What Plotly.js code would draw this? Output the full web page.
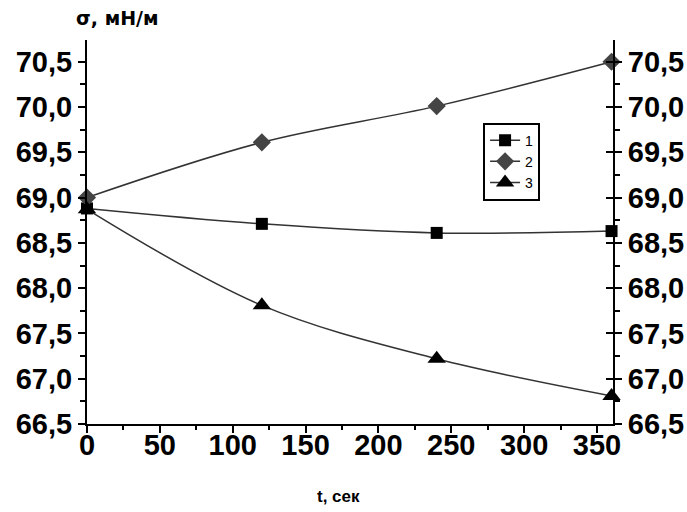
<!DOCTYPE html>
<html><head><meta charset="utf-8">
<script src="https://cdn.plot.ly/plotly-3.0.1.min.js"></script>
<style>html,body{margin:0;padding:0;background:#fff}#c{width:687px;height:512px}</style>
</head><body><div id="c"></div>
<script>
const times = [0, 120, 240, 360];
const series1 = [68.88, 68.71, 68.61, 68.63];
const series2 = [69.0, 69.61, 70.01, 70.5];
const series3 = [68.87, 67.81, 67.22, 66.81];
const seriesNames = ['1', '2', '3'];
const yTickVals = [66.5, 67.0, 67.5, 68.0, 68.5, 69.0, 69.5, 70.0, 70.5];
const yTickText = ['66,5', '67,0', '67,5', '68,0', '68,5', '69,0', '69,5', '70,0', '70,5'];
const xTickVals = [0, 50, 100, 150, 200, 250, 300, 350];

const yRange = [66.5, 70.74];
const tickFont = {family: 'Liberation Sans, Arial, sans-serif', size: 29, color: '#000', weight: 'bold'};

function tr(y, name, sym, size, col) {
  return {x: times, y: y, name: name, type: 'scatter', mode: 'lines+markers',
    line: {color: '#333', width: 1.5, shape: 'spline'},
    marker: {symbol: sym, size: size, color: col, line: {width: 0}},
    cliponaxis: false};
}
const data = [
  tr(series1, seriesNames[0], 'square', 12, '#000'),
  tr(series2, seriesNames[1], 'diamond', 14, '#444'),
  tr(series3, seriesNames[2], 'triangle-up', 16, '#000'),
  {x: [0], y: [null], yaxis: 'y2', showlegend: false, hoverinfo: 'skip'},
  {x: [0], y: [null], yaxis: 'y3', showlegend: false, hoverinfo: 'skip'}
];
const layout = {
  width: 687, height: 512,
  margin: {l: 87, r: 74, t: 40, b: 88},
  paper_bgcolor: '#fff', plot_bgcolor: '#fff',
  showlegend: true,
  legend: {x: 0.753, y: 0.785, xanchor: 'left', yanchor: 'top',
    bordercolor: '#000', borderwidth: 2, bgcolor: '#fff',
    font: {family: 'Liberation Sans, Arial, sans-serif', size: 14, color: '#000'},
    tracegroupgap: 0, itemwidth: 30},
  xaxis: {range: [0, 361], tickvals: xTickVals, ticktext: xTickVals.map(String),
    showgrid: false, zeroline: false, showline: true, linecolor: '#000', linewidth: 2,
    ticks: 'outside', ticklen: 7, tickwidth: 2, tickcolor: '#000', tickfont: tickFont,
    ticklabelstandoff: -13,
    minor: {dtick: 25, tick0: 0, ticks: 'outside', ticklen: 4, tickwidth: 2, tickcolor: '#000', showgrid: false}},
  yaxis: {range: yRange, tickvals: yTickVals, ticktext: yTickText,
    showgrid: false, zeroline: false, showline: true, linecolor: '#000', linewidth: 2,
    ticks: 'outside', ticklen: 7, tickwidth: 2, tickcolor: '#000', tickfont: tickFont,
    minor: {dtick: 0.25, tick0: 66.5, ticks: 'outside', ticklen: 5, tickwidth: 2, tickcolor: '#000', showgrid: false}},
  yaxis2: {range: yRange, overlaying: 'y', side: 'right', tickvals: yTickVals, ticktext: yTickText,
    showgrid: false, zeroline: false, showline: true, linecolor: '#000', linewidth: 2,
    ticks: 'outside', ticklen: 7, tickwidth: 2, tickcolor: '#000', tickfont: tickFont,
    minor: {dtick: 0.25, tick0: 66.5, ticks: 'outside', ticklen: 5, tickwidth: 2, tickcolor: '#000', showgrid: false}},
  yaxis3: {range: yRange, overlaying: 'y', side: 'right', tickvals: yTickVals, showticklabels: false,
    showgrid: false, zeroline: false, showline: false,
    ticks: 'inside', ticklen: 7, tickwidth: 2, tickcolor: '#000'},
  annotations: [
    {text: 'σ, мН/м', xref: 'paper', yref: 'paper', x: 0, y: 1, xshift: -13, yshift: 22,
     xanchor: 'left', yanchor: 'middle', showarrow: false,
     font: {family: 'DejaVu Sans, Liberation Sans, Arial, sans-serif', size: 19, color: '#000', weight: 'bold'}},
    {text: 't, сек', xref: 'paper', yref: 'paper', x: 0.5, y: 0, xshift: -12, yshift: -72,
     xanchor: 'center', yanchor: 'middle', showarrow: false,
     font: {family: 'Liberation Sans, Arial, sans-serif', size: 17, color: '#000', weight: 'bold'}}
  ]
};
Plotly.newPlot('c', data, layout, {displayModeBar: false, staticPlot: true});
</script>
</body></html>
